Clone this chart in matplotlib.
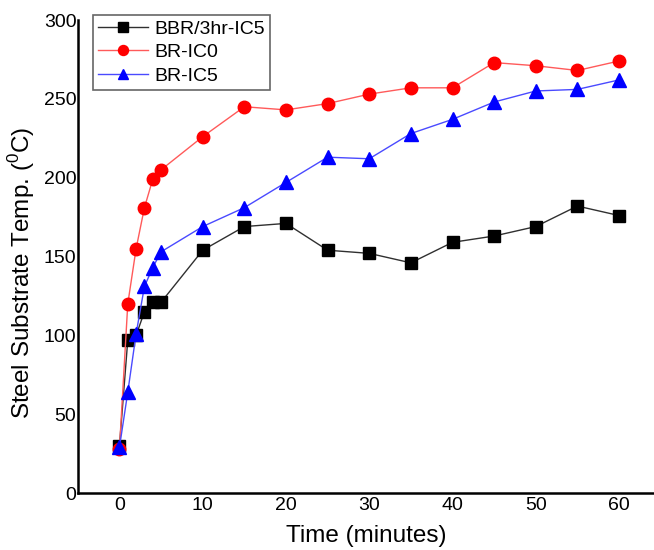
import matplotlib
matplotlib.use("Agg")
from matplotlib import pyplot as plt

plt.rcParams['font.family'] = ['Liberation Sans', 'DejaVu Sans']
plt.rcParams['mathtext.fontset'] = 'custom'
plt.rcParams['mathtext.rm'] = 'Liberation Sans'

# time (minutes)
time_min = [0, 1, 2, 3, 4, 5, 10, 15, 20, 25, 30, 35, 40, 45, 50, 55, 60]

# steel substrate temperature (C)
bbr_3hr_ic5 = [30, 97, 100, 115, 121, 121, 154, 169, 171, 154, 152, 146, 159, 163, 169, 182, 176]
br_ic0 = [28, 120, 155, 181, 199, 205, 226, 245, 243, 247, 253, 257, 257, 273, 271, 268, 274]
br_ic5 = [29, 64, 101, 131, 143, 153, 169, 181, 197, 213, 212, 228, 237, 248, 255, 256, 262]

series_names = ['BBR/3hr-IC5', 'BR-IC0', 'BR-IC5']
x_ticks = [0, 10, 20, 30, 40, 50, 60]
y_ticks = [0, 50, 100, 150, 200, 250, 300]

fig = plt.figure(figsize=(6.54, 5.5), dpi=100)
ax = fig.add_axes([0.119, 0.1036, 0.881, 0.86])

ax.plot(time_min, bbr_3hr_ic5, color='#303030', lw=1.0, marker='s', ms=8.5,
        mfc='black', mec='black', label=series_names[0])
ax.plot(time_min, br_ic0, color='#ff5a5a', lw=1.0, marker='o', ms=9,
        mfc='red', mec='red', label=series_names[1])
ax.plot(time_min, br_ic5, color='#4a4aff', lw=1.0, marker='^', ms=9.5,
        mfc='blue', mec='blue', label=series_names[2])

ax.set_xlim(-5, 64.2)
ax.set_ylim(0, 300)
ax.set_xticks(x_ticks)
ax.set_yticks(y_ticks)
ax.tick_params(axis='x', length=0, labelsize=14, pad=3)
ax.tick_params(axis='y', length=0, labelsize=14, pad=1)

for s in ['top', 'right']:
    ax.spines[s].set_visible(False)
ax.spines['left'].set_linewidth(1.8)
ax.spines['bottom'].set_linewidth(1.8)

ax.set_xlabel('Time (minutes)', fontsize=17.5, labelpad=8)
ax.set_ylabel(r'Steel Substrate Temp. ($^0$C)', fontsize=17.5)
ax.yaxis.set_label_coords(-0.071, 0.465)

leg = ax.legend(loc='upper left', bbox_to_anchor=(0.026, 1.01), fontsize=14,
                frameon=True, fancybox=False, edgecolor='#404040',
                handlelength=2.6, borderpad=0.25, labelspacing=0.3,
                handletextpad=0.3, markerscale=0.8, borderaxespad=0)
leg.get_frame().set_linewidth(1.2)

fig.savefig('out.png', dpi=100)
